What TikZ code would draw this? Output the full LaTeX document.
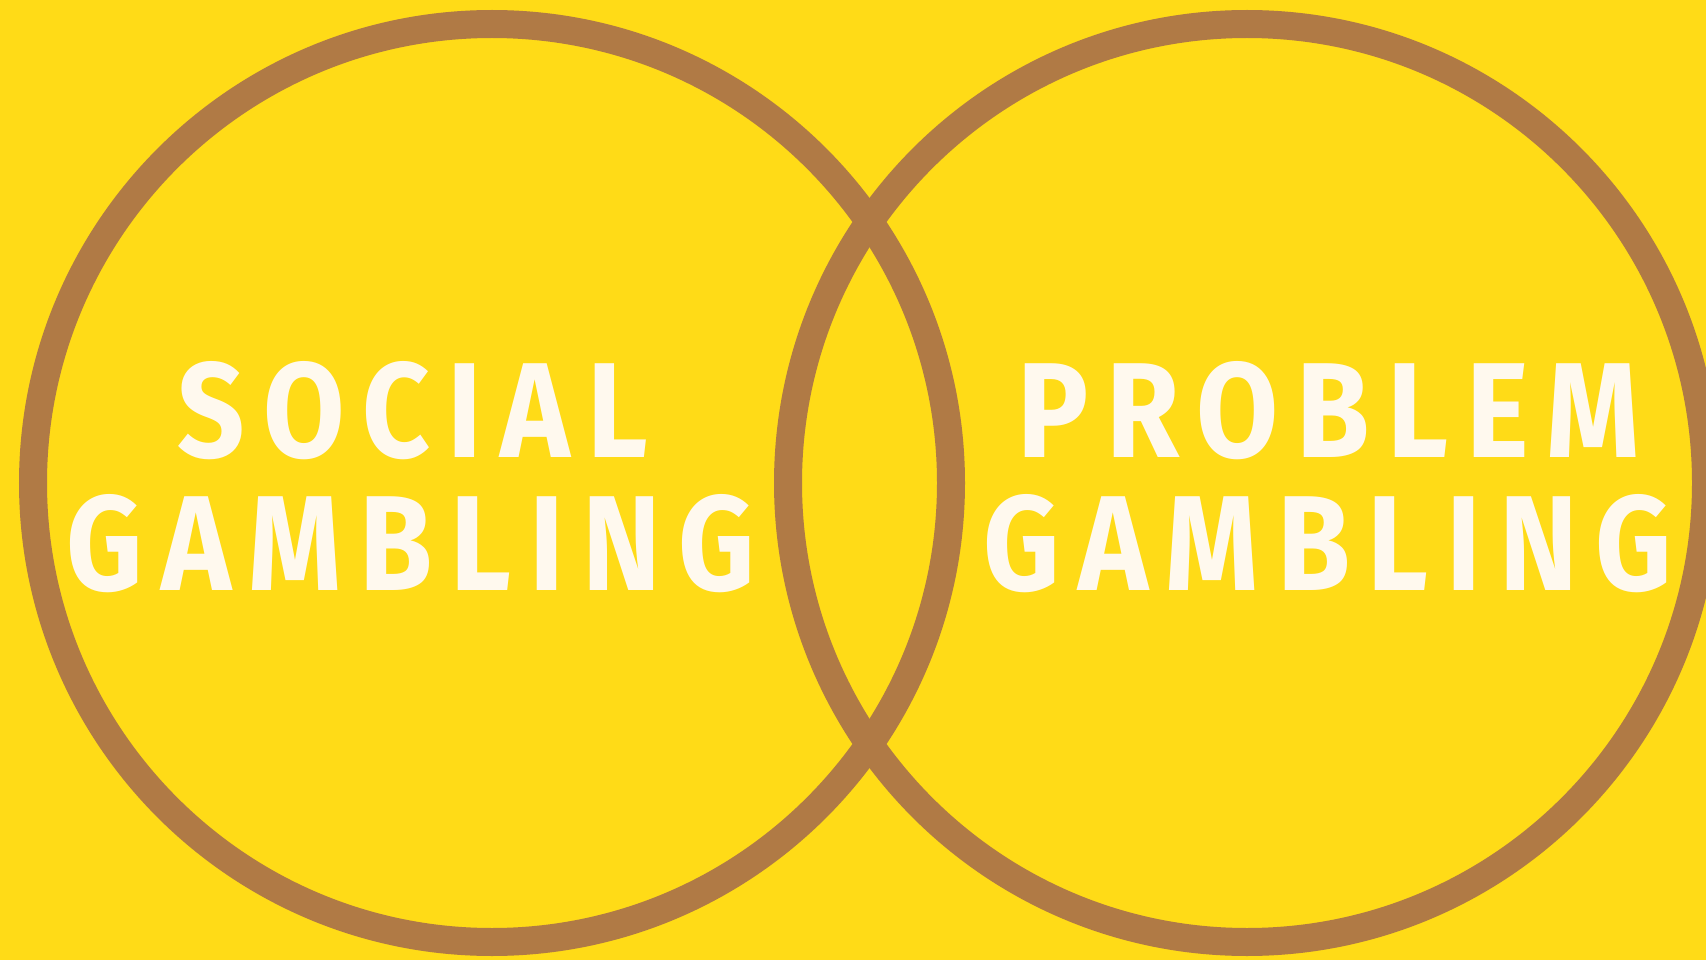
\documentclass[tikz,border=0pt]{standalone}
\usepackage{fontspec}
\newfontfamily\dispfont[LetterSpace=15]{Fira Sans}
\usepackage{graphicx}
\definecolor{bgyellow}{HTML}{FFDB17}
\definecolor{ringbrown}{HTML}{B07A45}
\definecolor{textcream}{HTML}{FFF9EE}
\tikzset{
  ring/.style={circle, draw=ringbrown, line width=28pt, minimum size=918pt, inner sep=0pt},
  label/.style={inner sep=0pt, text=textcream, font=\dispfont\bfseries}
}
\begin{document}
\begin{tikzpicture}[x=1pt,y=-1pt]
\useasboundingbox (0,0) rectangle (1706,960);
\clip (0,0) rectangle (1706,960);
\fill[bgyellow] (0,0) rectangle (1706,960);
\node[ring] (left) at (492,483) {};
\node[ring] (right) at (1247,483) {};
\node[label] (social) at (413,411) {\resizebox{470pt}{96pt}{SOCIAL}};
\node[label] (gambA) at (411,544) {\resizebox{688pt}{96pt}{GAMBLING}};
\node[label] (problem) at (1329,411) {\resizebox{622pt}{96pt}{PROBLEM}};
\node[label] (gambB) at (1328,544) {\resizebox{688pt}{96pt}{GAMBLING}};
\end{tikzpicture}
\end{document}
